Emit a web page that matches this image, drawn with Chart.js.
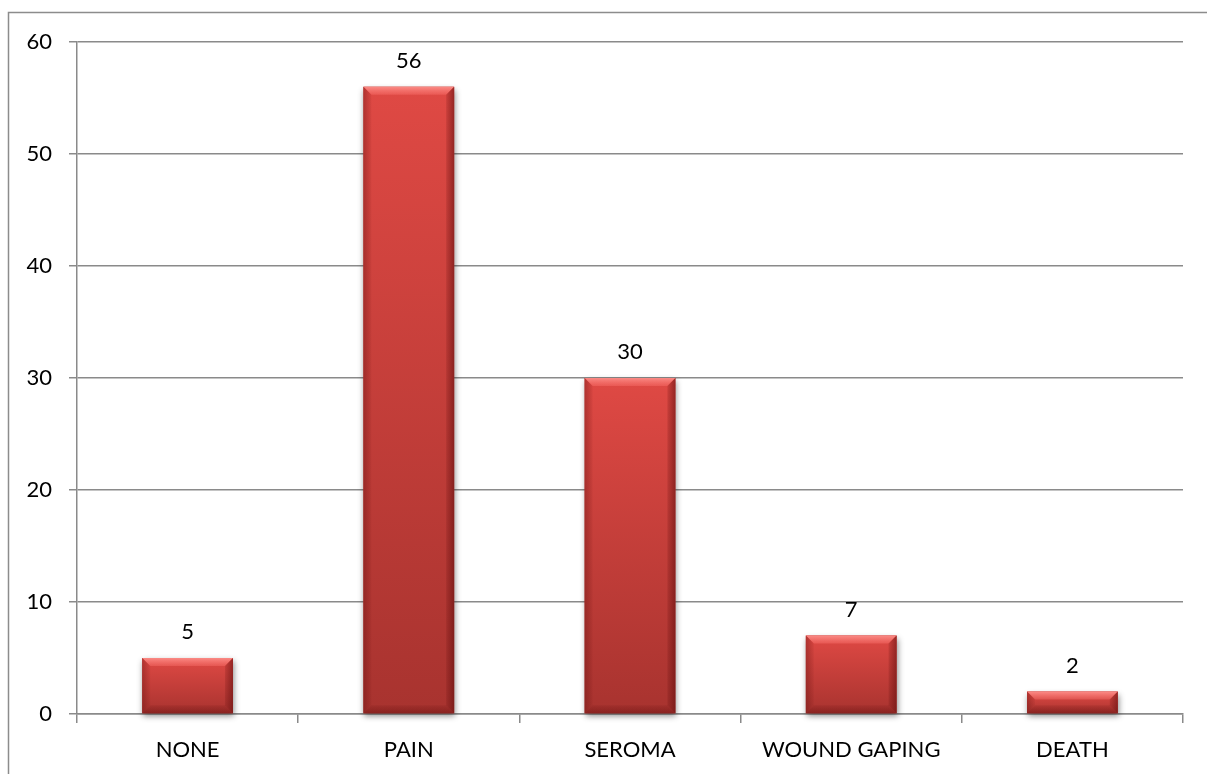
<!DOCTYPE html>
<html>
<head>
<meta charset="utf-8">
<script src="https://cdn.jsdelivr.net/npm/chart.js@4/dist/chart.umd.min.js"></script>
<style>
  html, body { margin: 0; padding: 0; background: #ffffff; }
  #wrap { width: 1207px; height: 774px; position: relative; }
</style>
</head>
<body>
<div id="wrap"><canvas id="c" width="1207" height="774"></canvas></div>
<script>
// Complications after surgery (number of patients)
const categories = ['NONE', 'PAIN', 'SEROMA', 'WOUND GAPING', 'DEATH'];
const patients = [5, 56, 30, 7, 2];
const yTicks = [0, 10, 20, 30, 40, 50, 60];

const FONT = 'Lato, "Liberation Sans", Arial, sans-serif';
const GRID = '#8a8a8a';

// Outer frame of the chart object
const framePlugin = {
  id: 'frame',
  beforeDraw(chart) {
    const ctx = chart.ctx;
    ctx.save();
    ctx.fillStyle = '#ffffff';
    ctx.fillRect(0, 0, chart.width, chart.height);
    ctx.strokeStyle = '#8c8c8c';
    ctx.lineWidth = 1.5;
    ctx.strokeRect(8.5, 12.5, chart.width + 20, chart.height + 20);
    ctx.restore();
  }
};

// Soft drop shadow under each bar
const shadowPlugin = {
  id: 'barShadow',
  beforeDatasetsDraw(chart) {
    const ctx = chart.ctx;
    const meta = chart.getDatasetMeta(0);
    ctx.save();
    ctx.shadowColor = 'rgba(0,0,0,0.45)';
    ctx.shadowBlur = 6;
    ctx.shadowOffsetX = 1;
    ctx.shadowOffsetY = 3;
    ctx.fillStyle = '#a9332f';
    meta.data.forEach(bar => {
      const l = bar.x - bar.width / 2;
      ctx.fillRect(l, bar.y, bar.width, bar.base - bar.y);
    });
    ctx.restore();
  }
};

// Bevelled edges on the bars plus value labels above them
const bevelPlugin = {
  id: 'bevel',
  afterDatasetsDraw(chart) {
    const ctx = chart.ctx;
    const meta = chart.getDatasetMeta(0);
    ctx.save();
    meta.data.forEach((bar, i) => {
      const l = bar.x - bar.width / 2, r = bar.x + bar.width / 2;
      const t = bar.y, b = bar.base;
      const h = b - t;
      const s = Math.min(8, h / 2.5);
      // top highlight
      let g = ctx.createLinearGradient(0, t, 0, t + s);
      g.addColorStop(0, 'rgba(255,150,145,0.85)');
      g.addColorStop(1, 'rgba(255,120,115,0.35)');
      ctx.fillStyle = g;
      ctx.beginPath();
      ctx.moveTo(l, t); ctx.lineTo(r, t); ctx.lineTo(r - s, t + s); ctx.lineTo(l + s, t + s);
      ctx.closePath(); ctx.fill();
      // right shade
      g = ctx.createLinearGradient(r - s, 0, r, 0);
      g.addColorStop(0, 'rgba(90,10,10,0.15)');
      g.addColorStop(1, 'rgba(90,10,10,0.55)');
      ctx.fillStyle = g;
      ctx.beginPath();
      ctx.moveTo(r, t); ctx.lineTo(r, b); ctx.lineTo(r - s, b - s); ctx.lineTo(r - s, t + s);
      ctx.closePath(); ctx.fill();
      // left shade
      g = ctx.createLinearGradient(l, 0, l + s, 0);
      g.addColorStop(0, 'rgba(90,10,10,0.35)');
      g.addColorStop(1, 'rgba(90,10,10,0.05)');
      ctx.fillStyle = g;
      ctx.beginPath();
      ctx.moveTo(l, t); ctx.lineTo(l + s, t + s); ctx.lineTo(l + s, b - s); ctx.lineTo(l, b);
      ctx.closePath(); ctx.fill();
      // bottom shade
      g = ctx.createLinearGradient(0, b - s, 0, b);
      g.addColorStop(0, 'rgba(90,10,10,0.1)');
      g.addColorStop(1, 'rgba(90,10,10,0.4)');
      ctx.fillStyle = g;
      ctx.beginPath();
      ctx.moveTo(l, b); ctx.lineTo(l + s, b - s); ctx.lineTo(r - s, b - s); ctx.lineTo(r, b);
      ctx.closePath(); ctx.fill();

      // value label
      ctx.fillStyle = '#000000';
      ctx.font = '22px ' + FONT;
      ctx.textAlign = 'center';
      ctx.textBaseline = 'middle';
      ctx.fillText(String(patients[i]), bar.x, t - 26);
    });
    ctx.restore();
  }
};

new Chart(document.getElementById('c'), {
  type: 'bar',
  data: {
    labels: categories,
    datasets: [{
      data: patients,
      backgroundColor(context) {
        const chart = context.chart;
        const y = chart.scales && chart.scales.y;
        if (!y || typeof context.raw !== 'number') return '#c93d39';
        const top = y.getPixelForValue(context.raw);
        const base = y.getPixelForValue(0);
        if (!isFinite(top) || !isFinite(base) || top === base) return '#c93d39';
        const g = chart.ctx.createLinearGradient(0, top, 0, base);
        g.addColorStop(0, '#df4944');
        g.addColorStop(1, '#a8332f');
        return g;
      },
      borderWidth: 0,
      categoryPercentage: 1,
      barPercentage: 0.41
    }]
  },
  options: {
    responsive: false,
    animation: false,
    devicePixelRatio: 1,
    layout: { padding: { left: 0, top: 42, right: 24, bottom: 0 } },
    plugins: { legend: { display: false }, tooltip: { enabled: false } },
    scales: {
      x: {
        grid: { display: true, drawOnChartArea: false, drawTicks: true, offset: true, tickLength: 9, color: GRID, lineWidth: 1.5 },
        border: { display: true, color: GRID, width: 1.5 },
        ticks: { color: '#000000', font: { family: FONT, size: 22 }, padding: 14, maxRotation: 0 },
        afterFit(scale) { scale.height = 60; }
      },
      y: {
        min: 0,
        max: 60,
        afterBuildTicks(scale) { scale.ticks = yTicks.map(v => ({ value: v })); },
        grid: { color: GRID, lineWidth: 1.5, tickLength: 8, drawTicks: true },
        border: { display: true, color: GRID, width: 1.5 },
        ticks: { color: '#000000', font: { family: FONT, size: 22 }, padding: 17 },
        afterFit(scale) { scale.width = 77; }
      }
    }
  },
  plugins: [framePlugin, shadowPlugin, bevelPlugin]
});
</script>
</body>
</html>
